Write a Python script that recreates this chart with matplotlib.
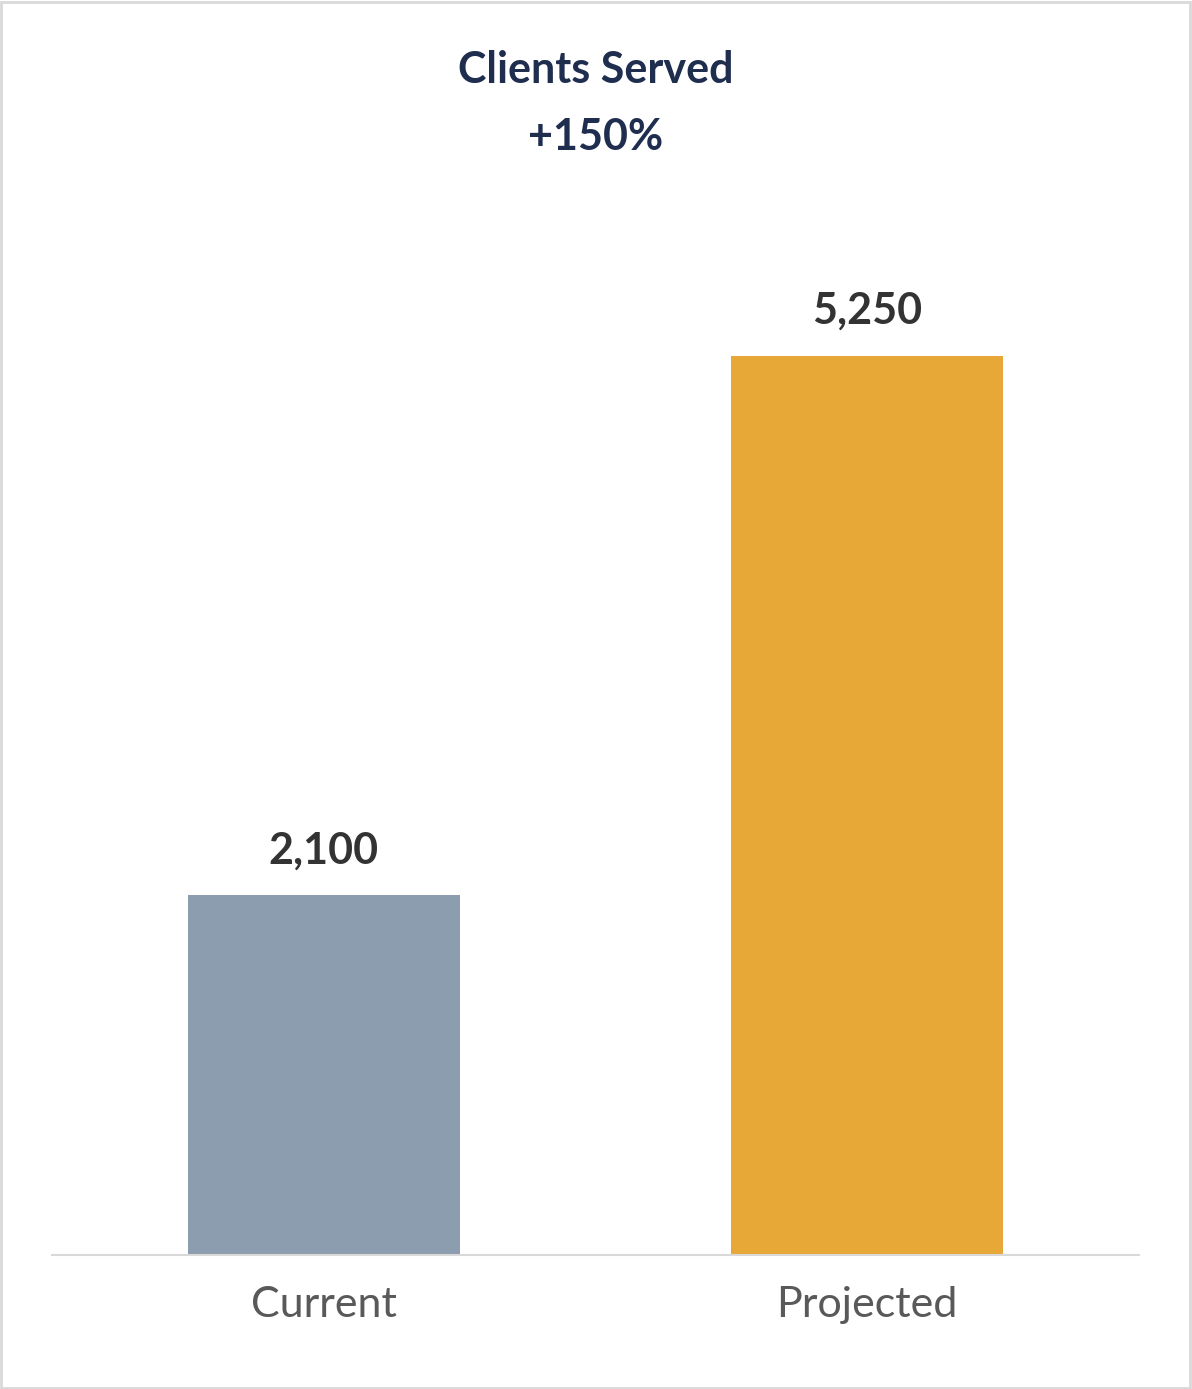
import matplotlib
matplotlib.use("Agg")
import matplotlib.pyplot as plt
import matplotlib.patches as patches

categories = ["Current", "Projected"]
values = [2100, 5250]
value_labels = ["2,100", "5,250"]
bar_colors = ["#8c9daf", "#e8a838"]
title_lines = ["Clients Served", "+150%"]

plt.rcParams["font.family"] = ["Lato", "DejaVu Sans"]

W, H = 1192, 1389
fig = plt.figure(figsize=(W / 100, H / 100), dpi=100)
fig.patch.set_facecolor("white")

# axes: x 52..1139 px, y 200..1255 px
ax = fig.add_axes([52 / W, 1 - 1255 / H, (1139 - 52) / W, (1255 - 200) / H])
px_per_unit = (1255 - 356) / 5250
ax.set_ylim(0, (1255 - 200) / px_per_unit)
ax.set_xlim(-0.5, 1.5)

xs = range(len(categories))
ax.bar(xs, values, width=0.5, color=bar_colors, zorder=2)
for x, v, lab in zip(xs, values, value_labels):
    ax.annotate(lab, (x, v), xytext=(0, 18), textcoords="offset points",
                ha="center", va="bottom", fontsize=31, fontweight="bold", color="#333333")

ax.set_xticks(list(xs))
ax.set_xticklabels(categories, fontsize=31, color="#595959")
ax.tick_params(axis="x", length=0, pad=22)
ax.set_yticks([])
for s in ["top", "right", "left"]:
    ax.spines[s].set_visible(False)
ax.spines["bottom"].set_color("#d9d9d9")
ax.spines["bottom"].set_linewidth(1.5)

fig.text(0.5, 1 - 70 / H, title_lines[0], ha="center", va="center",
         fontsize=31, fontweight="bold", color="#1f2d4e")
fig.text(0.5, 1 - 137 / H, title_lines[1], ha="center", va="center",
         fontsize=31, fontweight="bold", color="#1f2d4e")

fig.patches.append(patches.Rectangle((1 / W, 1 / H), 1 - 3 / W, 1 - 3 / H,
                                     transform=fig.transFigure, fill=False,
                                     edgecolor="#d9d9d9", linewidth=2))

fig.savefig("out.png", dpi=100, facecolor="white")
